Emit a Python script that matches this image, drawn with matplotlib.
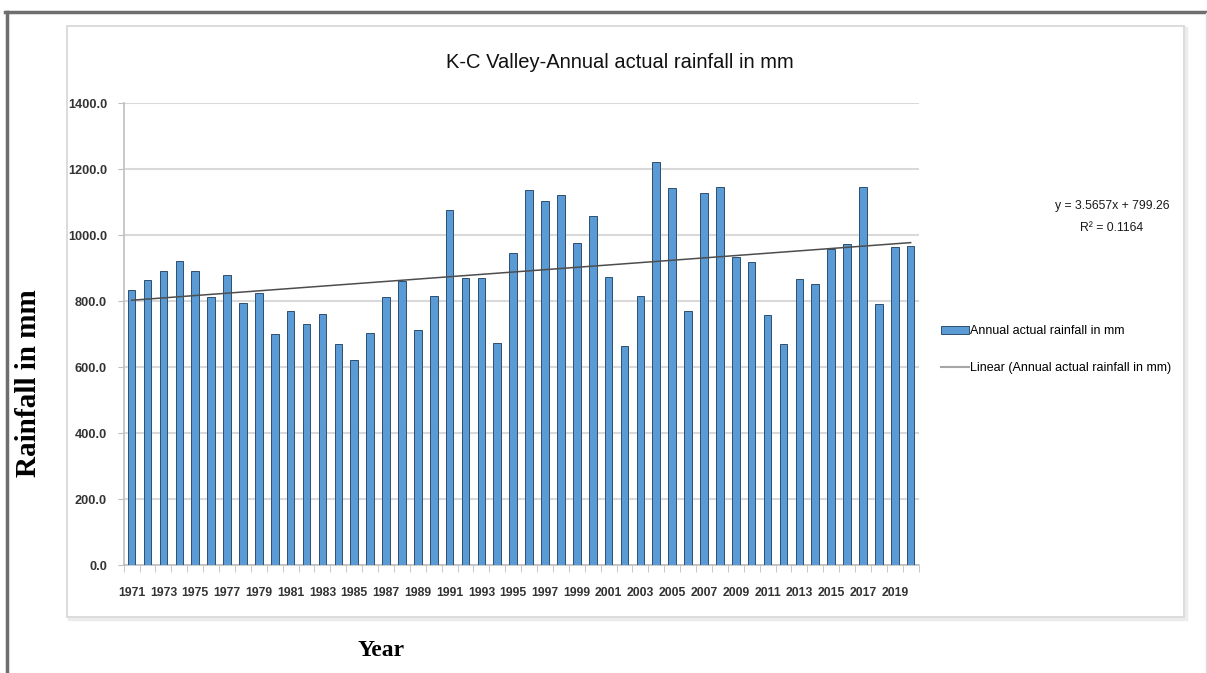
import matplotlib
matplotlib.use('Agg')
import matplotlib.pyplot as plt
from matplotlib import font_manager
from matplotlib.patches import Rectangle, Patch
from matplotlib.lines import Line2D
import numpy as np

# Datos del grafico
years = list(range(1971, 2021))
rainfall = [834, 864, 892, 922, 892, 812, 879, 795, 826, 699,
            770, 730, 761, 669, 621, 705, 812, 861, 712, 816,
            1076, 871, 871, 672, 947, 1137, 1104, 1122, 977, 1058,
            874, 664, 816, 1221, 1144, 771, 1129, 1145, 933, 920,
            758, 670, 867, 851, 958, 973, 1145, 791, 963, 968]
trend_slope = 3.5657
trend_intercept = 799.26
trend_r2 = 0.1164
y_ticks = [0, 200, 400, 600, 800, 1000, 1200, 1400]

title = 'K-C Valley-Annual actual rainfall in mm'
serie = 'Annual actual rainfall in mm'

# Fuente estrecha parecida a Calibri si existe
nombres = {f.name for f in font_manager.fontManager.ttflist}
narrow = 'Liberation Sans Narrow' if 'Liberation Sans Narrow' in nombres else 'Liberation Sans'
serif = 'Liberation Serif'

W, H = 1207, 673
fig = plt.figure(figsize=(W / 100, H / 100), dpi=100)

# marco exterior (captura de pantalla)
fig.add_artist(Line2D([5 / W, 1], [1 - 11.5 / H, 1 - 11.5 / H], color='#6e6e6e', lw=2.5))
fig.add_artist(Line2D([6.5 / W, 6.5 / W], [0, 1 - 11.5 / H], color='#6e6e6e', lw=2.5))
fig.add_artist(Line2D([1205.5 / W, 1205.5 / W], [0, 1 - 13 / H], color='#dddddd', lw=1))

# caja del grafico con sombra (detras de los ejes)
fig.add_artist(Rectangle((69 / W, 1 - 619 / H), (1117 / W), (591 / H), transform=fig.transFigure,
                         facecolor='none', edgecolor='#ececec', lw=2.5, zorder=-10))
fig.add_artist(Rectangle((67 / W, 1 - 617 / H), (1117 / W), (591 / H), transform=fig.transFigure,
                         facecolor='white', edgecolor='#d9d9d9', lw=1.3, zorder=-9))

ax = fig.add_axes([123.7 / W, 1 - 565 / H, (918.6 - 123.7) / W, (565 - 103.3) / H])
ax.patch.set_alpha(0)
x = np.arange(len(years))
ax.bar(x, rainfall, width=0.48, color='#5b9bd5', edgecolor='#2f4f6f', linewidth=0.7, zorder=3)

xt = np.array([1, len(years)])
ax.plot(xt - 1, trend_slope * xt + trend_intercept, color='#4d4d4d', lw=1.1, zorder=4)

ax.set_xlim(-0.5, len(years) - 0.5)
ax.set_ylim(0, 1400)
ax.set_yticks(y_ticks)
ax.set_yticklabels([f'{v:.1f}' for v in y_ticks], fontfamily=narrow, fontsize=9.2,
                   fontweight='bold', color='#333333')
ax.set_xticks(x[::2])
ax.set_xticklabels([str(y) for y in years[::2]], fontfamily=narrow, fontsize=8.8,
                   fontweight='bold', color='#333333')
ax.set_xticks(np.arange(-0.5, len(years)), minor=True)
ax.tick_params(axis='x', which='major', length=0, pad=16)
ax.tick_params(axis='x', which='minor', length=5, color='#bfbfbf')
ax.tick_params(axis='y', length=4, color='#bfbfbf', pad=8)
ax.grid(axis='y', color='#d9d9d9', lw=1.5, zorder=0)
ax.set_axisbelow(True)
for lado in ['top', 'right']:
    ax.spines[lado].set_visible(False)
ax.spines['left'].set_color('#bfbfbf')
ax.spines['bottom'].set_color('#bfbfbf')
ax.spines['left'].set_linewidth(1.2)
ax.spines['bottom'].set_linewidth(1.2)

fig.text(620 / W, 1 - 62 / H, title, ha='center', va='center', fontfamily=narrow,
         fontsize=14.5, fontweight='medium', color='#111111')

# ecuacion de la tendencia
fig.text(1112 / W, 1 - 206 / H, f'y = {trend_slope}x + {trend_intercept}', ha='center',
         va='center', fontfamily=narrow, fontsize=8.8, color='#1a1a1a')
fig.text(1112 / W, 1 - 228 / H, f'R² = {trend_r2}', ha='center', va='center',
         fontfamily=narrow, fontsize=8.8, color='#1a1a1a')

handles = [Patch(facecolor='#5b9bd5', edgecolor='#2f4f6f', lw=0.7),
           Line2D([], [], color='#a6a6a6', lw=1.5)]
fig.legend(handles, [serie, f'Linear ({serie})'], loc='upper left',
           bbox_to_anchor=(941 / W, 1 - 325 / H), frameon=False,
           prop={'family': narrow, 'size': 9}, handlelength=2.2, handleheight=0.6,
           handletextpad=0.1, labelspacing=2.0, borderpad=0, borderaxespad=0)

fig.text(29 / W, 1 - 383 / H, 'Rainfall in mm', rotation=90, ha='center', va='center',
         fontfamily=serif, fontweight='bold', fontsize=21)
fig.text(381 / W, 1 - 651 / H, 'Year', ha='center', va='center',
         fontfamily=serif, fontweight='bold', fontsize=17)

fig.savefig('out.png', dpi=100)
